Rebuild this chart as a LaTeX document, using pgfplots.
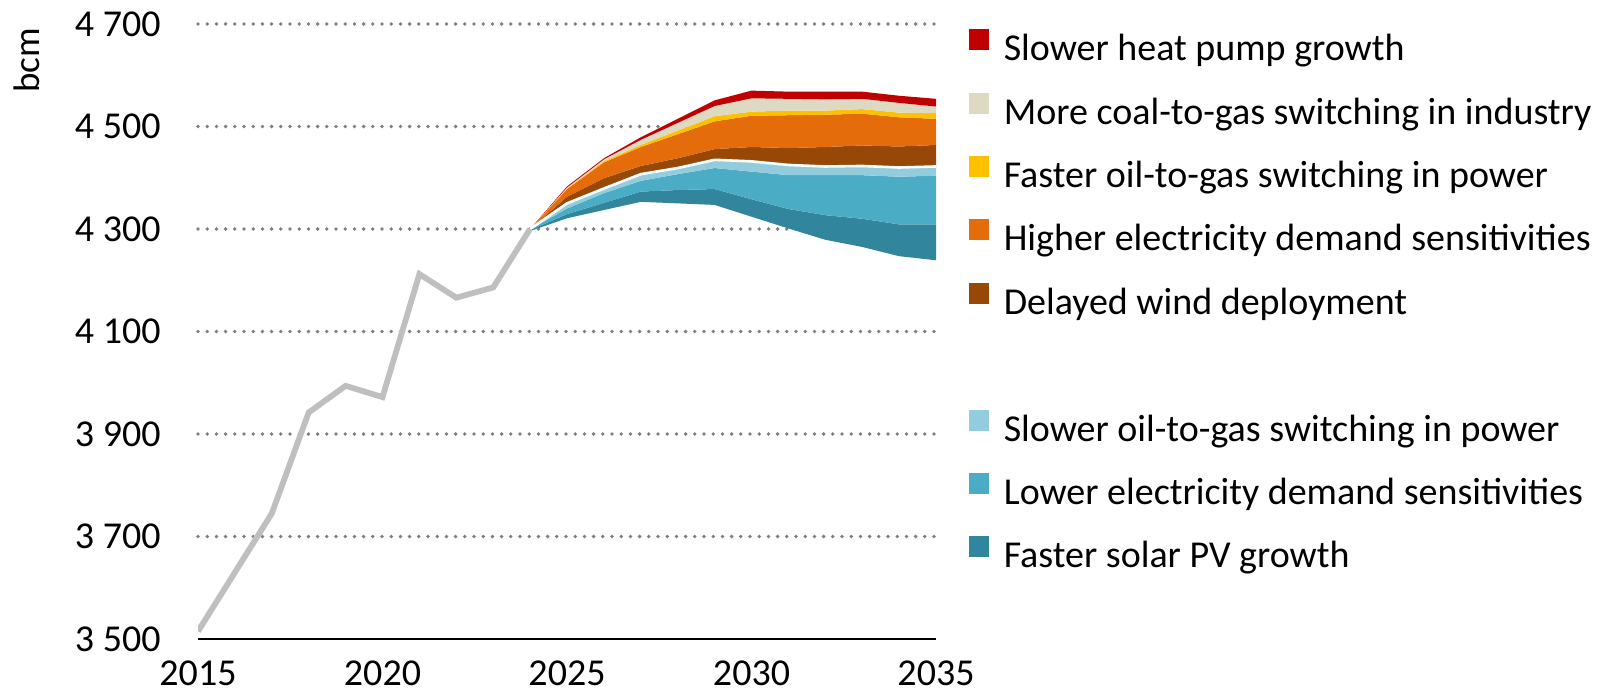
\documentclass[border=0pt]{standalone}
\usepackage{fontspec}
\setmainfont{Carlito}
\usepackage{pgfplots}
\usepackage{pgfplotstable}
\pgfplotsset{compat=1.18}
\usepgfplotslibrary{fillbetween}

\definecolor{heatred}{HTML}{C00000}
\definecolor{coalbeige}{HTML}{DDD9C3}
\definecolor{oilyellow}{HTML}{FFC000}
\definecolor{elecorange}{HTML}{E46C0A}
\definecolor{windbrown}{HTML}{974706}
\definecolor{oillblue}{HTML}{93CDDD}
\definecolor{elecblue}{HTML}{4BACC6}
\definecolor{solarteal}{HTML}{31859C}
\definecolor{histgray}{HTML}{BFBFBF}
\definecolor{gridgray}{HTML}{7F7F7F}

% historical demand, bcm
\pgfplotstableread{
year demand
2015 3515
2016 3630
2017 3745
2018 3942
2019 3994
2020 3972
2021 4212
2022 4166
2023 4186
2024 4300
}\history

% scenario band boundaries (absolute levels, bcm)
% tb = bottom of solar, mb = bottom of lower elec., lb = bottom of slower oil,
% base = central case, bt = top of wind, ot = top of higher elec.,
% yt = top of faster oil, gt = top of coal-to-gas, rt = top of heat pump
\pgfplotstableread{
year tb   mb   lb   base bt   ot   yt   gt   rt
2024 4296 4298 4299 4300 4300 4300 4300 4300 4300
2025 4321 4329 4340 4350 4363 4378 4379 4381 4383
2026 4337 4351 4370 4379 4399 4430 4432 4436 4438
2027 4353 4373 4394 4407 4423 4460 4464 4474 4479
2028 4350 4376 4407 4419 4438 4485 4492 4507 4515
2029 4347 4378 4419 4435 4456 4510 4520 4540 4551
2030 4324 4358 4412 4432 4460 4521 4529 4555 4570
2031 4301 4339 4405 4425 4458 4522 4531 4554 4568
2032 4279 4327 4405 4422 4460 4523 4531 4553 4568
2033 4265 4320 4405 4423 4463 4525 4534 4554 4568
2034 4247 4309 4402 4420 4461 4518 4527 4546 4560
2035 4239 4309 4404 4422 4464 4515 4526 4539 4554
}\scen

\begin{document}
\begin{tikzpicture}
\begin{axis}[
    scale only axis,
    width=369pt, height=307.5pt,
    xmin=2015, xmax=2035,
    ymin=3500, ymax=4700,
    xtick={2015,2020,...,2035},
    ytick={3700,3900,...,4700},
    extra y ticks={3500},
    extra y tick style={grid=none},
    axis x line*=bottom,
    axis y line*=left,
    x axis line style={black, line width=1.2pt, -},
    y axis line style={draw=none},
    tick style={draw=none},
    ymajorgrids,
    major grid style={gridgray, line width=1.9pt, line cap=round, dash pattern=on 0pt off 4.6pt},
    /pgf/number format/assume math mode=true,
    tick label style={font=\fontsize{19}{22}\selectfont},
    xticklabel style={/pgf/number format/1000 sep={}, anchor=north, inner sep=0pt, yshift=-10.5pt},
    yticklabel style={/pgf/number format/1000 sep={\ }, anchor=east, inner sep=0pt, xshift=-18.5pt},
    ylabel={bcm},
    ylabel style={at={(axis description cs:-0.2317,0.9407)}, anchor=center, font=\fontsize{18.5}{22}\selectfont},
    legend image code/.code={\fill[#1] (0pt,0.5pt) rectangle (9.5pt,10.5pt);},
    legend cell align=left,
    legend style={at={(axis description cs:1.0447,0.9915)}, anchor=north west,
        draw=none, fill=none, inner sep=0pt, outer sep=0pt,
        row sep=12pt, column sep=7.5pt,
        font=\fontsize{19}{22}\selectfont,
        nodes={inner sep=0pt, text height=14pt, text depth=4pt}},
]
% invisible boundaries
\addplot[name path=tb, draw=none, forget plot] table[x=year, y=tb]{\scen};
\addplot[name path=mb, draw=none, forget plot] table[x=year, y=mb]{\scen};
\addplot[name path=lb, draw=none, forget plot] table[x=year, y=lb]{\scen};
\addplot[name path=base, draw=none, forget plot] table[x=year, y=base]{\scen};
\addplot[name path=bt, draw=none, forget plot] table[x=year, y=bt]{\scen};
\addplot[name path=ot, draw=none, forget plot] table[x=year, y=ot]{\scen};
\addplot[name path=yt, draw=none, forget plot] table[x=year, y=yt]{\scen};
\addplot[name path=gt, draw=none, forget plot] table[x=year, y=gt]{\scen};
\addplot[name path=rt, draw=none, forget plot] table[x=year, y=rt]{\scen};

% bands
\addplot[solarteal, draw=none, forget plot] fill between[of=tb and mb];
\addplot[elecblue, draw=none, forget plot] fill between[of=mb and lb];
\addplot[oillblue, draw=none, forget plot] fill between[of=lb and base];
\addplot[windbrown, draw=none, forget plot] fill between[of=base and bt];
\addplot[elecorange, draw=none, forget plot] fill between[of=bt and ot];
\addplot[oilyellow, draw=none, forget plot] fill between[of=ot and yt];
\addplot[coalbeige, draw=none, forget plot] fill between[of=yt and gt];
\addplot[heatred, draw=none, forget plot] fill between[of=gt and rt];

% central case separator
\addplot[white, line width=1.3pt, forget plot] table[x=year, y=base]{\scen};

% history
\addplot[histgray, line width=2.9pt, forget plot] table[x=year, y=demand]{\history};

% legend
\addlegendimage{heatred}
\addlegendentry{Slower heat pump growth}
\addlegendimage{coalbeige}
\addlegendentry{More coal-to-gas switching in industry}
\addlegendimage{oilyellow}
\addlegendentry{Faster oil-to-gas switching in power}
\addlegendimage{elecorange}
\addlegendentry{Higher electricity demand sensitivities}
\addlegendimage{windbrown}
\addlegendentry{Delayed wind deployment}
\addlegendimage{white}
\addlegendentry{}
\addlegendimage{oillblue}
\addlegendentry{Slower oil-to-gas switching in power}
\addlegendimage{elecblue}
\addlegendentry{Lower electricity demand sensitivities}
\addlegendimage{solarteal}
\addlegendentry{Faster solar PV growth}
\end{axis}
\pgfresetboundingbox
\path[use as bounding box] ([shift={(-99pt,-26.5pt)}]current axis.south west)
    rectangle ([shift={(705.5pt,319.5pt)}]current axis.south west);
\end{tikzpicture}
\end{document}
